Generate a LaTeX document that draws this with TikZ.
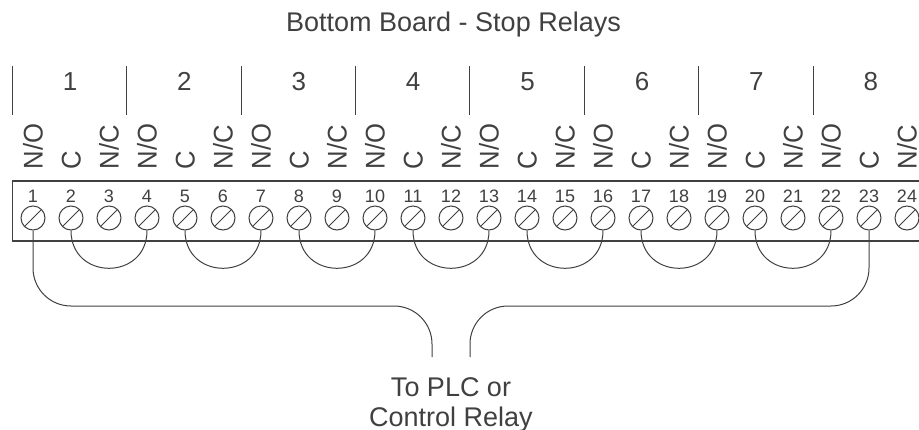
\documentclass[tikz,border=0pt]{standalone}
\usepackage{fontspec}
\setmainfont{Liberation Sans}
\usepackage{xcolor}
\definecolor{inkgray}{HTML}{404040}
\tikzset{
    bigtext/.style = {text = inkgray, inner sep = 0pt, align = center, font = \fontsize{27}{30}\selectfont},
    secnum/.style = {text = inkgray, inner sep = 0pt, anchor = base, font = \fontsize{26}{30}\selectfont},
    contact/.style = {text = inkgray, inner sep = 0pt, rotate = 90, xscale = 0.95, anchor = west,
        text height = 19pt, text depth = 0pt, font = \fontsize{27}{30}\selectfont},
    termnum/.style = {text = inkgray, inner sep = 0pt, font = \fontsize{18}{20}\selectfont},
    screw/.style = {circle, draw = inkgray, line width = 1pt, minimum size = 24pt, inner sep = 0pt}
}
\begin{document}
\begin{tikzpicture}[x = 1pt, y = -1pt, line width = 1pt, draw = inkgray]
        \useasboundingbox (0,0) rectangle (919,429);
        \node[bigtext, anchor = base] (title) at (453.5,31) {Bottom Board - Stop Relays};
        % relay sections
        \foreach \n in {1,...,8} {
            \pgfmathsetmacro{\xbar}{12.2+114.4*(\n-1)}
            \draw[inkgray] (\xbar,66) -- (\xbar,115);
            \node[secnum] (sec\n) at (\xbar+57.8,90) {\n};
        }
        % terminal strip
        \draw[inkgray, line width = 1.3pt] (919,181) -- (12.5,181) -- (12.5,241) -- (919,241);
        \foreach \n in {1,...,24} {
            \pgfmathsetmacro{\xs}{33+38*(\n-1)}
            \node[termnum] (num\n) at (\xs,196) {\n};
            \node[screw] (s\n) at (\xs,218) {};
            \draw[inkgray] (s\n.225) -- (s\n.45);
        }
        \foreach \n/\a in {1/N\slash O,2/C,3/N\slash C,4/N\slash O,5/C,6/N\slash C,7/N\slash O,8/C,9/N\slash C,10/N\slash O,11/C,12/N\slash C,
                13/N\slash O,14/C,15/N\slash C,16/N\slash O,17/C,18/N\slash C,19/N\slash O,20/C,21/N\slash C,22/N\slash O,23/C,24/N\slash C} {
            \pgfmathsetmacro{\xs}{33+38*(\n-1)}
            \node[contact] (lab\n) at (\xs,169.5) {\a};
        }
        % jumpers
        \foreach \a/\b in {2/4,5/7,8/10,11/13,14/16,17/19,20/22} {
            \draw[inkgray] (s\a.south) to[out = -90, in = -90, looseness = 1.7] (s\b.south);
        }
        % leads to the PLC
        \node[bigtext, anchor = base] (plc) at (451,426) {To PLC or\\Control Relay};
        \coordinate (leadl) at (432,357);
        \coordinate (leadr) at (470,357);
        \coordinate (bus) at (0,306);
        \draw[inkgray, rounded corners = 38pt] (s1.south) |- (leadl |- bus) -- (leadl);
        \draw[inkgray, rounded corners = 38pt] (s23.south) |- (leadr |- bus) -- (leadr);
\end{tikzpicture}
\end{document}
